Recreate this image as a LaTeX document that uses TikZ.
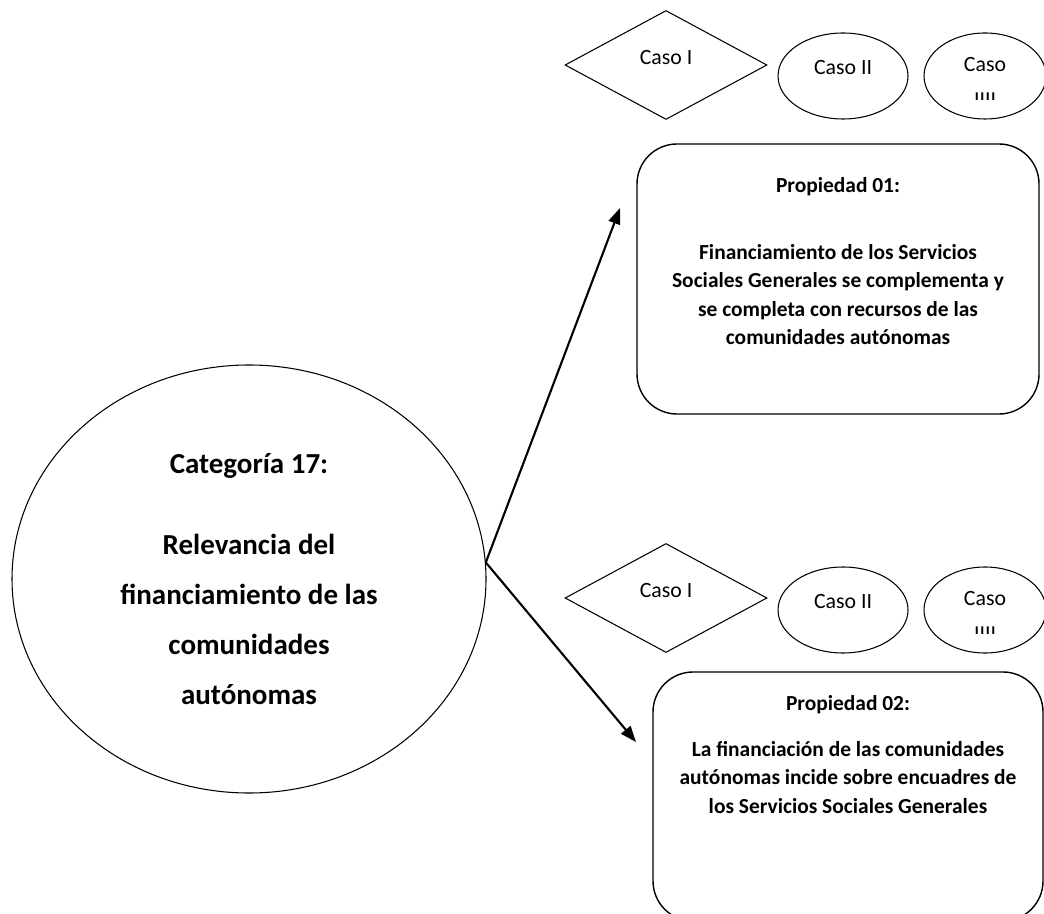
\documentclass[tikz,border=0pt]{standalone}
\usepackage{fontspec}
\setmainfont{Carlito}
\usetikzlibrary{shapes.geometric,arrows.meta}

\begin{document}
\begin{tikzpicture}[x=0.2mm,y=-0.2mm,
  casodiam/.style={draw,diamond,minimum width=40.4mm,minimum height=21.8mm,inner sep=0pt,line width=.6pt},
  casoell/.style={draw,ellipse,minimum width=26mm,minimum height=17.2mm,inner sep=0pt,line width=.6pt},
  casotxt/.style={font=\fontsize{12.4}{16.4}\selectfont,align=center,inner sep=0pt},
  propbox/.style={draw,rounded corners=8mm,line width=.8pt,inner sep=0pt},
  proptxt/.style={font=\bfseries\fontsize{12.2}{16.2}\selectfont,align=center,inner sep=0pt},
  flecha/.style={-{Triangle[length=3.2mm,width=2.4mm]},line width=1.2pt}]
\useasboundingbox (0,0) rectangle (1044,914);
\clip (0,0) rectangle (1044,914);
% categoria
\node[draw,ellipse,minimum width=94.8mm,minimum height=85.6mm,inner sep=0pt,line width=.6pt,
  align=center,font=\bfseries\fontsize{16.5}{28.4}\selectfont] (cat) at (249,579)
  {Categoría 17:\\[18pt]Relevancia del\\financiamiento de las\\comunidades\\autónomas};
% propiedad 01
\node[casodiam,label={[casotxt,yshift=1.4mm]center:Caso I}] (d1) at (666,65) {};
\node[casoell,label={[casotxt,yshift=1.6mm]center:Caso II}] (e1) at (843,76) {};
\node[casoell,minimum width=24.4mm,label={[casotxt,yshift=-.6mm]center:Caso\\\scalebox{1}[.55]{IIII}}] (f1) at (985,76) {};
\node[propbox,minimum width=80.4mm,minimum height=54mm,
  label={[proptxt,yshift=3.6mm]center:Propiedad 01:\\[21.8pt]Financiamiento de los Servicios\\Sociales Generales se complementa y\\se completa con recursos de las\\comunidades autónomas}] (p1) at (838,279) {};
% propiedad 02
\node[casodiam,label={[casotxt,yshift=1.4mm]center:Caso I}] (d2) at (666,598) {};
\node[casoell,label={[casotxt,yshift=1.6mm]center:Caso II}] (e2) at (843,610) {};
\node[casoell,minimum width=24.4mm,label={[casotxt,yshift=-.6mm]center:Caso\\\scalebox{1}[.55]{IIII}}] (f2) at (985,610) {};
\node[propbox,minimum width=78mm,minimum height=49.8mm,
  label={[proptxt,yshift=8.4mm]center:Propiedad 02:\\[10pt]La financiación de las comunidades\\autónomas incide sobre encuadres de\\los Servicios Sociales Generales}] (p2) at (848,796.5) {};
% flechas
\coordinate (a1) at (620,208);
\coordinate (a2) at (636,742);
\draw[flecha] (cat.4) -- (a1);
\draw[flecha] (cat.4) -- (a2);
\end{tikzpicture}
\end{document}
